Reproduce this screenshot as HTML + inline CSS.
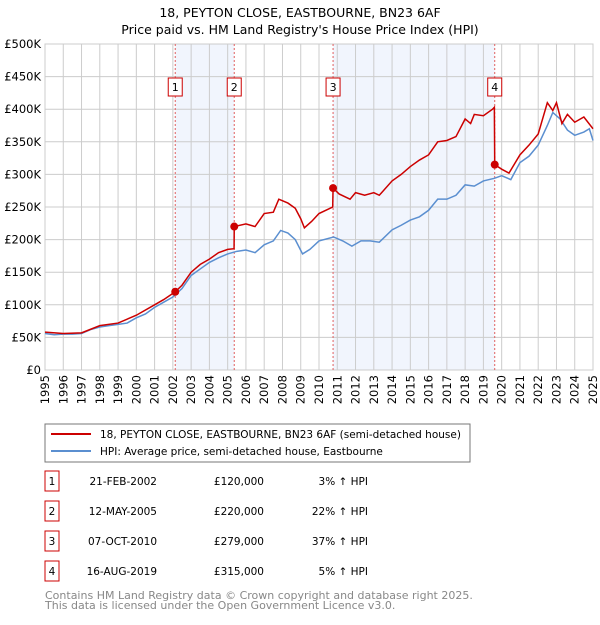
<!DOCTYPE html>
<html><head><meta charset="utf-8"><style>
body{margin:0;background:#fff;font-family:"Liberation Sans","DejaVu Sans",sans-serif;}
svg text{font-family:"DejaVu Sans","Liberation Sans",sans-serif;}
</style></head><body>
<svg id="c" width="600" height="620" xmlns="http://www.w3.org/2000/svg">
<text x="300" y="17" text-anchor="middle" font-size="12.5">18, PEYTON CLOSE, EASTBOURNE, BN23 6AF</text>
<text x="300" y="34" text-anchor="middle" font-size="12.5">Price paid vs. HM Land Registry's House Price Index (HPI)</text>
<g id="plot"></g>
<rect x="45" y="424" width="425" height="38" fill="#fff" stroke="#777"/>
<line x1="51" y1="434" x2="91" y2="434" stroke="#cc0000" stroke-width="2"/>
<text x="100" y="438" font-size="10.5">18, PEYTON CLOSE, EASTBOURNE, BN23 6AF (semi-detached house)</text>
<line x1="51" y1="451" x2="91" y2="451" stroke="#5b8fd0" stroke-width="2"/>
<text x="100" y="455" font-size="10.5">HPI: Average price, semi-detached house, Eastbourne</text>
<g id="tbl" font-size="10.5"></g>
<text x="45" y="599" font-size="11" fill="#888">Contains HM Land Registry data © Crown copyright and database right 2025.</text>
<text x="45" y="609" font-size="11" fill="#888">This data is licensed under the Open Government Licence v3.0.</text>
</svg>
<script>
const hpiYears=[1995,1995.5,1996,1996.5,1997,1997.5,1998,1998.5,1999,1999.5,2000,2000.5,2001,2001.5,2002,2002.5,2003,2003.5,2004,2004.5,2005,2005.5,2006,2006.5,2007,2007.5,2007.9,2008.3,2008.7,2009.1,2009.5,2010,2010.8,2011.3,2011.8,2012.3,2012.8,2013.3,2014,2014.5,2015,2015.5,2016,2016.5,2017,2017.5,2018,2018.5,2019,2019.6,2020,2020.5,2021,2021.5,2022,2022.5,2022.8,2023.2,2023.6,2024,2024.5,2024.8,2025];
const hpiValues=[56,54,55,55,56,62,66,68,70,72,80,86,96,104,112,125,145,155,165,172,178,182,184,180,192,198,214,210,200,178,185,198,204,198,190,198,198,196,215,222,230,235,245,262,262,268,284,282,290,294,298,292,318,328,345,375,395,385,368,360,365,370,352];
const priceYears=[1995,1996,1997,1998,1999,2000,2001,2001.5,2002.13,2002.5,2003,2003.5,2004,2004.5,2005,2005.35,2005.36,2006,2006.5,2007,2007.5,2007.8,2008.3,2008.7,2009,2009.2,2009.6,2010,2010.75,2010.77,2011.1,2011.7,2012,2012.5,2013,2013.3,2014,2014.5,2015,2015.5,2016,2016.5,2017,2017.5,2018,2018.3,2018.5,2019,2019.5,2019.6,2019.62,2020,2020.4,2021,2021.5,2022,2022.5,2022.8,2023.0,2023.3,2023.6,2024,2024.5,2025];
const priceValues=[58,56,57,68,72,84,100,108,120,130,150,162,170,180,185,186,220,224,220,240,242,262,256,248,232,218,228,240,250,279,270,262,272,268,272,268,290,300,312,322,330,350,352,358,385,378,392,390,400,403,315,308,302,330,345,362,410,398,410,378,392,380,388,370];
const saleYears=[2002.13,2005.36,2010.77,2019.62];
const saleValues=[120,220,279,315];
const saleLabels=["1","2","3","4"];
const saleDates=["21-FEB-2002","12-MAY-2005","07-OCT-2010","16-AUG-2019"];
const salePrices=["£120,000","£220,000","£279,000","£315,000"];
const saleHpi=["3% ↑ HPI","22% ↑ HPI","37% ↑ HPI","5% ↑ HPI"];
const yTicks=[0,50,100,150,200,250,300,350,400,450,500];
const yTickLabels=["£0","£50K","£100K","£150K","£200K","£250K","£300K","£350K","£400K","£450K","£500K"];
const NS="http://www.w3.org/2000/svg";
const X0=45,X1=593,Y0=370,Y1=44;
const xs=y=>X0+(y-1995)/30*(X1-X0);
const ys=v=>Y0-v/500*(Y0-Y1);
const plot=document.getElementById('plot');
function mk(t,a,p){const e=document.createElementNS(NS,t);for(const k in a)e.setAttribute(k,a[k]);(p||plot).appendChild(e);return e;}
for(let i=0;i<4;i+=2){
 const r=mk('rect',{x:xs(saleYears[i]),y:Y1,width:xs(saleYears[i+1])-xs(saleYears[i]),height:Y0-Y1,fill:'#eef3fc',opacity:0.8});
 
 
}
for(let yr=1995;yr<=2025;yr++){
 const l=mk('line',{x1:xs(yr),x2:xs(yr),y1:Y1,y2:Y0,stroke:'#ccc'});
 
 
 const t=mk('text',{transform:`translate(${xs(yr)+4},${Y0+5}) rotate(-90)`,'text-anchor':'end','font-size':11.5});
 t.textContent=yr;
 
 
}
yTicks.forEach((v,i)=>{
 const l=mk('line',{x1:X0,x2:X1,y1:ys(v),y2:ys(v),stroke:'#ccc'});
 
 
 const t=mk('text',{x:X0-4,y:ys(v)+4,'text-anchor':'end','font-size':11.5});
 t.textContent=yTickLabels[i];
 
 
});
const fr=mk('rect',{x:X0,y:Y1,width:X1-X0,height:Y0-Y1,fill:'none',stroke:'#ccc'});


saleYears.forEach((y,i)=>{
 const l=mk('line',{x1:xs(y),x2:xs(y),y1:Y1,y2:Y0,stroke:'#e06060','stroke-dasharray':'2,2'});
 
 
 const b=mk('rect',{x:xs(y)-7,y:78,width:14,height:18,fill:'#fff',stroke:'#cc0000'});
 
 
 const t=mk('text',{x:xs(y),y:91,'text-anchor':'middle','font-size':11});
 t.textContent=saleLabels[i];
 
 
});
const hp=mk('polyline',{points:hpiYears.map((y,i)=>xs(y)+','+ys(hpiValues[i])).join(' '),fill:'none',stroke:'#5b8fd0','stroke-width':1.5});


const pp=mk('polyline',{points:priceYears.map((y,i)=>xs(y)+','+ys(priceValues[i])).join(' '),fill:'none',stroke:'#cc0000','stroke-width':1.5});


saleYears.forEach((y,i)=>{
 const c=mk('circle',{cx:xs(y),cy:ys(saleValues[i]),r:4,fill:'#cc0000'});
 
 
});
const tbl=document.getElementById('tbl');
saleLabels.forEach((s,i)=>{
 const cy=483+i*30;
 const b=mk('rect',{x:45,y:cy-12,width:14,height:20,fill:'#fff',stroke:'#cc0000'},tbl);
 
 
 const cells=[[52,s,'middle'],[157,saleDates[i],'end'],[264,salePrices[i],'end'],[368,saleHpi[i],'end']];
 const names=['table-index','table-date','table-price','table-hpi-change'];
 cells.forEach((c,j)=>{
  const t=mk('text',{x:c[0],y:cy+2,'text-anchor':c[2]},tbl);
  t.textContent=c[1];
  
  
 });
});
</script>
</body></html>
